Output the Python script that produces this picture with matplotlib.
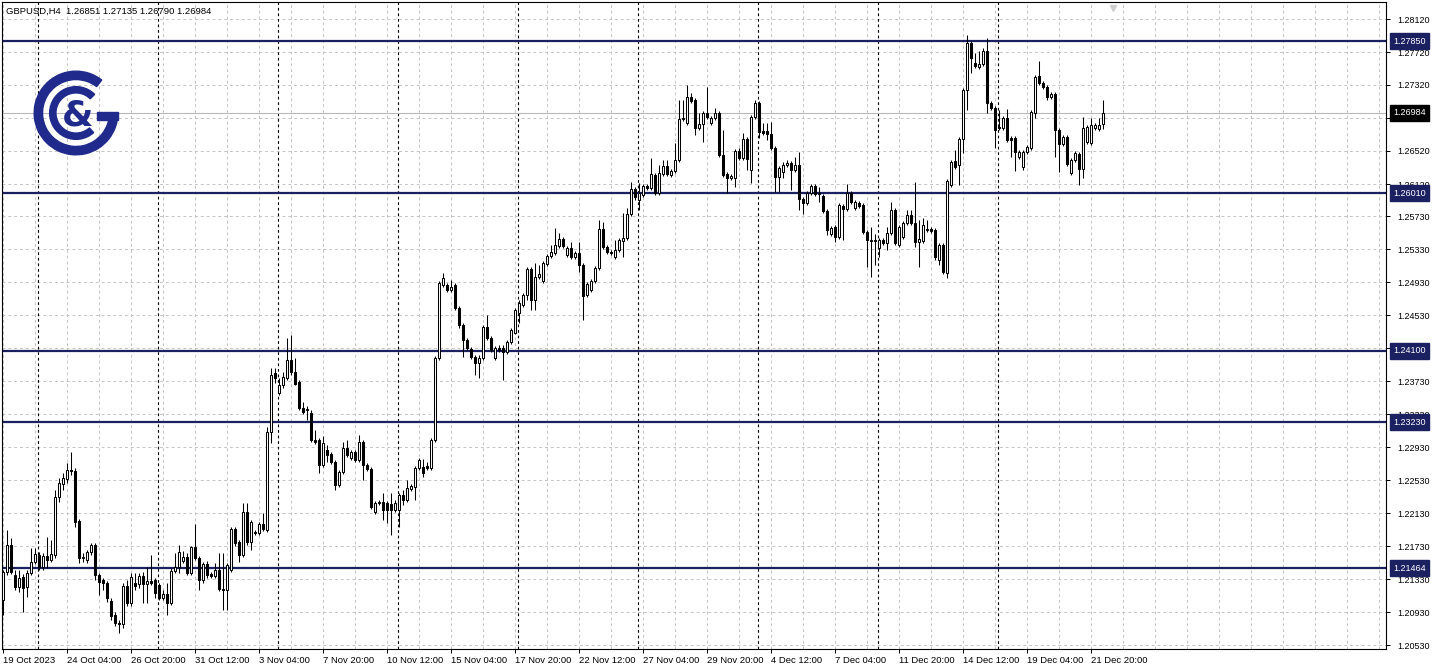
"""
GBPUSD H4 candlestick chart, MT5 style, with support/resistance levels.
"""
import numpy as np
import matplotlib
matplotlib.use("Agg")
import matplotlib.pyplot as plt
from matplotlib.patches import Wedge, Rectangle
from matplotlib.transforms import blended_transform_factory

plt.rcParams["font.family"] = ["Liberation Sans", "DejaVu Sans"]

NAVY = "#1b2060"
LOGO = "#1f2a8c"
GRID = "#c4c4c4"

symbol = "GBPUSD,H4"

# OHLC, one H4 candle each, 19 Oct 12:00 .. 22 Dec 08:00
opens = [
    1.2108, 1.2142, 1.2174, 1.2138, 1.2124, 1.2136, 1.2124, 1.2140, 1.2154, 1.2162,
    1.2148, 1.2161, 1.2156, 1.2162, 1.2233, 1.2248, 1.2254, 1.2265, 1.2264, 1.2204,
    1.2159, 1.2156, 1.2166, 1.2174, 1.2138, 1.2132, 1.2128, 1.2107, 1.2089, 1.2080,
    1.2079, 1.2125, 1.2104, 1.2128, 1.2127, 1.2137, 1.2127, 1.2131, 1.2132, 1.2126,
    1.2110, 1.2115, 1.2104, 1.2143, 1.2148, 1.2155, 1.2160, 1.2140, 1.2172, 1.2159,
    1.2132, 1.2151, 1.2139, 1.2137, 1.2144, 1.2121, 1.2120, 1.2144, 1.2194, 1.2178,
    1.2162, 1.2214, 1.2178, 1.2190, 1.2189, 1.2200, 1.2193, 1.2311, 1.2383, 1.2359,
    1.2368, 1.2377, 1.2399, 1.2384, 1.2372, 1.2341, 1.2338, 1.2334, 1.2302, 1.2302,
    1.2271, 1.2290, 1.2285, 1.2275, 1.2247, 1.2263, 1.2292, 1.2280, 1.2287, 1.2277,
    1.2299, 1.2271, 1.2267, 1.2214, 1.2225, 1.2227, 1.2225, 1.2224, 1.2217, 1.2217,
    1.2235, 1.2229, 1.2242, 1.2245, 1.2268, 1.2269, 1.2270, 1.2268, 1.2302, 1.2401,
    1.2490, 1.2490, 1.2484, 1.2490, 1.2462, 1.2441, 1.2423, 1.2412, 1.2402, 1.2395,
    1.2401, 1.2439, 1.2425, 1.2401, 1.2413, 1.2413, 1.2408, 1.2420, 1.2432, 1.2456,
    1.2465, 1.2477, 1.2509, 1.2471, 1.2499, 1.2494, 1.2515, 1.2525, 1.2528, 1.2537,
    1.2545, 1.2526, 1.2534, 1.2524, 1.2528, 1.2514, 1.2477, 1.2484, 1.2494, 1.2510,
    1.2557, 1.2536, 1.2530, 1.2524, 1.2532, 1.2543, 1.2547, 1.2576, 1.2606, 1.2593,
    1.2599, 1.2610, 1.2607, 1.2623, 1.2601, 1.2624, 1.2634, 1.2623, 1.2628, 1.2641,
    1.2691, 1.2686, 1.2717, 1.2714, 1.2680, 1.2685, 1.2698, 1.2686, 1.2692, 1.2698,
    1.2647, 1.2624, 1.2619, 1.2619, 1.2652, 1.2643, 1.2667, 1.2629, 1.2693, 1.2710,
    1.2676, 1.2676, 1.2673, 1.2656, 1.2620, 1.2627, 1.2635, 1.2637, 1.2629, 1.2635,
    1.2594, 1.2589, 1.2601, 1.2610, 1.2600, 1.2597, 1.2579, 1.2551, 1.2560, 1.2548,
    1.2585, 1.2582, 1.2601, 1.2583, 1.2589, 1.2587, 1.2554, 1.2544, 1.2544, 1.2534,
    1.2544, 1.2540, 1.2553, 1.2580, 1.2538, 1.2548, 1.2565, 1.2574, 1.2565, 1.2542,
    1.2543, 1.2556, 1.2557, 1.2556, 1.2520, 1.2538, 1.2504, 1.2611, 1.2640, 1.2635,
    1.2667, 1.2726, 1.2783, 1.2759, 1.2754, 1.2757, 1.2773, 1.2710, 1.2704, 1.2681,
    1.2680, 1.2692, 1.2668, 1.2668, 1.2645, 1.2633, 1.2651, 1.2656, 1.2698, 1.2743,
    1.2734, 1.2730, 1.2717, 1.2721, 1.2677, 1.2660, 1.2669, 1.2625, 1.2641, 1.2648,
    1.2630, 1.2663, 1.2662, 1.2680, 1.2679, 1.26851,
]
highs = [
    1.2144, 1.2193, 1.2183, 1.2144, 1.2144, 1.2139, 1.2144, 1.2171, 1.2171, 1.2166,
    1.2165, 1.2184, 1.2180, 1.2241, 1.2256, 1.2262, 1.2274, 1.2287, 1.2268, 1.2206,
    1.2165, 1.2168, 1.2177, 1.2177, 1.2140, 1.2134, 1.2131, 1.2110, 1.2093, 1.2084,
    1.2128, 1.2132, 1.2140, 1.2140, 1.2140, 1.2142, 1.2148, 1.2162, 1.2134, 1.2128,
    1.2120, 1.2128, 1.2147, 1.2165, 1.2174, 1.2167, 1.2165, 1.2173, 1.2200, 1.2161,
    1.2154, 1.2155, 1.2142, 1.2153, 1.2165, 1.2165, 1.2153, 1.2196, 1.2196, 1.2180,
    1.2225, 1.2225, 1.2205, 1.2193, 1.2202, 1.2213, 1.2317, 1.2389, 1.2389, 1.2377,
    1.2384, 1.2425, 1.2429, 1.2401, 1.2374, 1.2348, 1.2343, 1.2338, 1.2314, 1.2304,
    1.2306, 1.2296, 1.2287, 1.2277, 1.2265, 1.2299, 1.2302, 1.2290, 1.2290, 1.2308,
    1.2302, 1.2274, 1.2269, 1.2228, 1.2229, 1.2237, 1.2228, 1.2237, 1.2229, 1.2237,
    1.2241, 1.2253, 1.2248, 1.2270, 1.2280, 1.2279, 1.2275, 1.2304, 1.2404, 1.2494,
    1.2504, 1.2492, 1.2496, 1.2492, 1.2464, 1.2443, 1.2425, 1.2414, 1.2405, 1.2405,
    1.2441, 1.2453, 1.2428, 1.2416, 1.2417, 1.2417, 1.2423, 1.2437, 1.2462, 1.2471,
    1.2480, 1.2511, 1.2511, 1.2516, 1.2514, 1.2519, 1.2527, 1.2538, 1.2559, 1.2553,
    1.2548, 1.2537, 1.2542, 1.2531, 1.2542, 1.2516, 1.2493, 1.2497, 1.2513, 1.2568,
    1.2566, 1.2538, 1.2532, 1.2544, 1.2547, 1.2577, 1.2583, 1.2614, 1.2608, 1.2613,
    1.2612, 1.2612, 1.2644, 1.2625, 1.2635, 1.2641, 1.2641, 1.2630, 1.2662, 1.2714,
    1.2714, 1.2732, 1.2722, 1.2716, 1.2698, 1.2700, 1.2730, 1.2694, 1.2704, 1.2700,
    1.2677, 1.2627, 1.2624, 1.2654, 1.2656, 1.2674, 1.2669, 1.2696, 1.2714, 1.2713,
    1.2686, 1.2686, 1.2687, 1.2658, 1.2634, 1.2639, 1.2641, 1.2640, 1.2645, 1.2651,
    1.2596, 1.2603, 1.2612, 1.2612, 1.2608, 1.2600, 1.2582, 1.2561, 1.2562, 1.2589,
    1.2588, 1.2612, 1.2603, 1.2593, 1.2591, 1.2589, 1.2556, 1.2560, 1.2551, 1.2547,
    1.2547, 1.2560, 1.2590, 1.2583, 1.2562, 1.2567, 1.2580, 1.2580, 1.2614, 1.2568,
    1.2571, 1.2568, 1.2560, 1.2559, 1.2540, 1.2540, 1.2618, 1.2641, 1.2653, 1.2669,
    1.2728, 1.2793, 1.2785, 1.2771, 1.2773, 1.2777, 1.2789, 1.2713, 1.2707, 1.2702,
    1.2694, 1.2703, 1.2670, 1.2670, 1.2653, 1.2653, 1.2659, 1.2702, 1.2744, 1.2761,
    1.2737, 1.2732, 1.2723, 1.2723, 1.2680, 1.2671, 1.2671, 1.2644, 1.2652, 1.2651,
    1.2693, 1.2683, 1.2692, 1.2686, 1.2692, 1.27135,
]
lows = [
    1.2090, 1.2138, 1.2139, 1.2120, 1.2117, 1.2093, 1.2111, 1.2138, 1.2151, 1.2144,
    1.2144, 1.2147, 1.2154, 1.2159, 1.2227, 1.2241, 1.2250, 1.2259, 1.2196, 1.2153,
    1.2154, 1.2153, 1.2162, 1.2132, 1.2114, 1.2120, 1.2105, 1.2084, 1.2076, 1.2068,
    1.2074, 1.2100, 1.2100, 1.2120, 1.2122, 1.2104, 1.2104, 1.2126, 1.2110, 1.2108,
    1.2108, 1.2090, 1.2102, 1.2140, 1.2140, 1.2153, 1.2138, 1.2138, 1.2156, 1.2120,
    1.2128, 1.2134, 1.2134, 1.2134, 1.2119, 1.2096, 1.2096, 1.2142, 1.2173, 1.2154,
    1.2160, 1.2174, 1.2168, 1.2187, 1.2186, 1.2191, 1.2190, 1.2298, 1.2371, 1.2356,
    1.2365, 1.2374, 1.2380, 1.2368, 1.2338, 1.2333, 1.2326, 1.2299, 1.2297, 1.2262,
    1.2269, 1.2275, 1.2273, 1.2241, 1.2245, 1.2260, 1.2281, 1.2277, 1.2275, 1.2275,
    1.2253, 1.2264, 1.2218, 1.2212, 1.2223, 1.2205, 1.2201, 1.2187, 1.2214, 1.2196,
    1.2223, 1.2227, 1.2240, 1.2229, 1.2265, 1.2257, 1.2265, 1.2265, 1.2299, 1.2399,
    1.2487, 1.2481, 1.2481, 1.2459, 1.2438, 1.2402, 1.2411, 1.2400, 1.2380, 1.2377,
    1.2399, 1.2423, 1.2408, 1.2399, 1.2408, 1.2374, 1.2406, 1.2418, 1.2430, 1.2444,
    1.2463, 1.2471, 1.2459, 1.2459, 1.2497, 1.2492, 1.2513, 1.2522, 1.2526, 1.2534,
    1.2534, 1.2524, 1.2521, 1.2521, 1.2505, 1.2447, 1.2475, 1.2481, 1.2492, 1.2508,
    1.2533, 1.2527, 1.2526, 1.2521, 1.2530, 1.2524, 1.2544, 1.2573, 1.2593, 1.2581,
    1.2596, 1.2605, 1.2605, 1.2599, 1.2599, 1.2622, 1.2622, 1.2620, 1.2625, 1.2639,
    1.2688, 1.2683, 1.2710, 1.2671, 1.2677, 1.2663, 1.2691, 1.2683, 1.2690, 1.2645,
    1.2620, 1.2601, 1.2617, 1.2608, 1.2641, 1.2641, 1.2629, 1.2613, 1.2691, 1.2668,
    1.2671, 1.2665, 1.2653, 1.2602, 1.2602, 1.2619, 1.2633, 1.2605, 1.2627, 1.2581,
    1.2576, 1.2587, 1.2599, 1.2597, 1.2590, 1.2577, 1.2550, 1.2549, 1.2542, 1.2545,
    1.2544, 1.2579, 1.2588, 1.2581, 1.2583, 1.2551, 1.2511, 1.2499, 1.2514, 1.2523,
    1.2538, 1.2532, 1.2550, 1.2538, 1.2536, 1.2545, 1.2562, 1.2562, 1.2536, 1.2511,
    1.2540, 1.2554, 1.2553, 1.2520, 1.2514, 1.2503, 1.2498, 1.2608, 1.2630, 1.2611,
    1.2650, 1.2702, 1.2747, 1.2753, 1.2751, 1.2755, 1.2698, 1.2702, 1.2656, 1.2677,
    1.2677, 1.2663, 1.2645, 1.2628, 1.2642, 1.2629, 1.2648, 1.2653, 1.2692, 1.2732,
    1.2727, 1.2714, 1.2715, 1.2645, 1.2627, 1.2658, 1.2634, 1.2623, 1.2639, 1.2611,
    1.2619, 1.2660, 1.2659, 1.2677, 1.2676, 1.26790,
]
closes = [
    1.2142, 1.2174, 1.2142, 1.2124, 1.2134, 1.2122, 1.2140, 1.2154, 1.2164, 1.2148,
    1.2161, 1.2156, 1.2164, 1.2233, 1.2250, 1.2256, 1.2265, 1.2264, 1.2202, 1.2159,
    1.2160, 1.2166, 1.2174, 1.2138, 1.2130, 1.2128, 1.2110, 1.2088, 1.2080, 1.2079,
    1.2125, 1.2104, 1.2136, 1.2125, 1.2137, 1.2127, 1.2131, 1.2128, 1.2116, 1.2110,
    1.2115, 1.2104, 1.2143, 1.2148, 1.2166, 1.2160, 1.2140, 1.2172, 1.2159, 1.2132,
    1.2151, 1.2138, 1.2137, 1.2144, 1.2121, 1.2120, 1.2150, 1.2194, 1.2177, 1.2162,
    1.2214, 1.2178, 1.2202, 1.2189, 1.2200, 1.2194, 1.2311, 1.2380, 1.2377, 1.2368,
    1.2378, 1.2399, 1.2384, 1.2370, 1.2340, 1.2336, 1.2339, 1.2302, 1.2299, 1.2271,
    1.2298, 1.2284, 1.2275, 1.2247, 1.2263, 1.2292, 1.2284, 1.2287, 1.2277, 1.2299,
    1.2271, 1.2267, 1.2221, 1.2225, 1.2227, 1.2217, 1.2217, 1.2217, 1.2225, 1.2235,
    1.2229, 1.2244, 1.2246, 1.2268, 1.2277, 1.2262, 1.2268, 1.2302, 1.2401, 1.2492,
    1.2498, 1.2484, 1.2487, 1.2462, 1.2441, 1.2423, 1.2413, 1.2402, 1.2395, 1.2401,
    1.2439, 1.2425, 1.2411, 1.2413, 1.2411, 1.2408, 1.2420, 1.2435, 1.2459, 1.2468,
    1.2477, 1.2509, 1.2471, 1.2499, 1.2503, 1.2516, 1.2525, 1.2530, 1.2538, 1.2545,
    1.2537, 1.2534, 1.2524, 1.2528, 1.2514, 1.2476, 1.2491, 1.2494, 1.2510, 1.2557,
    1.2536, 1.2530, 1.2528, 1.2532, 1.2544, 1.2547, 1.2576, 1.2606, 1.2596, 1.2601,
    1.2610, 1.2607, 1.2624, 1.2601, 1.2625, 1.2634, 1.2624, 1.2628, 1.2641, 1.2691,
    1.2692, 1.2717, 1.2713, 1.2680, 1.2685, 1.2698, 1.2693, 1.2692, 1.2698, 1.2647,
    1.2623, 1.2619, 1.2622, 1.2652, 1.2643, 1.2667, 1.2642, 1.2693, 1.2710, 1.2675,
    1.2674, 1.2673, 1.2656, 1.2620, 1.2631, 1.2635, 1.2637, 1.2629, 1.2635, 1.2594,
    1.2589, 1.2601, 1.2610, 1.2600, 1.2601, 1.2579, 1.2556, 1.2559, 1.2548, 1.2587,
    1.2582, 1.2601, 1.2590, 1.2590, 1.2585, 1.2554, 1.2544, 1.2543, 1.2543, 1.2544,
    1.2540, 1.2553, 1.2580, 1.2540, 1.2560, 1.2565, 1.2574, 1.2565, 1.2542, 1.2545,
    1.2562, 1.2557, 1.2555, 1.2523, 1.2538, 1.2505, 1.2616, 1.2639, 1.2633, 1.2667,
    1.2726, 1.2783, 1.2765, 1.2755, 1.2757, 1.2773, 1.2710, 1.2704, 1.2677, 1.2680,
    1.2692, 1.2665, 1.2665, 1.2651, 1.2651, 1.2651, 1.2657, 1.2699, 1.2742, 1.2734,
    1.2730, 1.2717, 1.2721, 1.2677, 1.2660, 1.2669, 1.2636, 1.2641, 1.2650, 1.2630,
    1.2680, 1.2681, 1.2683, 1.2683, 1.2683, 1.26984,
]

# horizontal support / resistance levels
levels = [1.27850, 1.26010, 1.24100, 1.23230, 1.21464]

# right price scale (grid at every level, label hidden where a box covers it)
price_ticks = [1.28120, 1.27720, 1.27320, 1.26920, 1.26520, 1.26120, 1.25730,
               1.25330, 1.24930, 1.24530, 1.24130, 1.23730, 1.23330, 1.22930,
               1.22530, 1.22130, 1.21730, 1.21330, 1.20930, 1.20530]
covered_ticks = [1.26920, 1.24130]

# time scale, one label every 16 candles
date_labels = ["19 Oct 2023", "24 Oct 04:00", "26 Oct 20:00", "31 Oct 12:00",
               "3 Nov 04:00", "7 Nov 20:00", "10 Nov 12:00", "15 Nov 04:00",
               "17 Nov 20:00", "22 Nov 12:00", "27 Nov 04:00", "29 Nov 20:00",
               "4 Dec 12:00", "7 Dec 04:00", "11 Dec 20:00", "14 Dec 12:00",
               "19 Dec 04:00", "21 Dec 20:00"]
label_step = 16

# index of the first candle of each week (Monday 00:00)
week_starts = [9, 39, 69, 99, 129, 159, 189, 219, 249]

# ── Figure ────────────────────────────────────────────────────
W, H = 1436, 671
fig = plt.figure(figsize=(W / 100, H / 100), dpi=100)
fig.patch.set_facecolor("white")
ax = fig.add_axes([2 / W, 22 / H, 1384 / W, 647 / H])

o = np.array(opens); c = np.array(closes)
hi = np.array(highs); lo = np.array(lows)
x = np.arange(len(o))

# pixel mapping of the MT5 window: 8250 px per 1.0 of price
ax.set_ylim(1.28120 - 630 / 8250, 1.28120 + 17 / 8250)
ax.set_xlim(-0.175, 345.825)

# grid
for p in price_ticks:
    ax.axhline(p, color=GRID, lw=0.7, ls=(0, (3, 3)), zorder=0)
for g in np.arange(0, 346, 8):
    ax.axvline(g, color=GRID, lw=0.7, ls=(0, (3, 3)), zorder=0)
for w in week_starts:
    ax.axvline(w - 0.25, color="black", lw=0.8, ls=(0, (2.5, 2.5)), zorder=0.5)

# bid line
ax.axhline(c[-1], color="#b8b8b8", lw=0.8, zorder=0.6)

# levels
for lv in levels:
    ax.axhline(lv, color=NAVY, lw=1.6, zorder=1)

# candles
up = c >= o
ax.vlines(x, lo, hi, color="black", lw=0.75, zorder=2)
body = np.maximum(np.abs(c - o), 0.00003)
ax.bar(x, body, bottom=np.minimum(o, c), width=0.5,
       color=np.where(up, "white", "black"), edgecolor="black",
       linewidth=0.75, zorder=3)

# axes style
for s in ax.spines.values():
    s.set_color("black")
    s.set_linewidth(0.8)
ax.yaxis.tick_right()
ax.set_yticks(price_ticks)
ax.set_yticklabels(["" if p in covered_ticks else f"{p:.5f}"
                    for p in price_ticks])
ax.tick_params(axis="y", length=3, width=0.7, pad=5, labelsize=6.5)
ax.set_xticks(np.arange(len(date_labels)) * label_step)
ax.set_xticklabels(date_labels, ha="left")
ax.tick_params(axis="x", length=3, width=0.7, pad=2, labelsize=6.8)

# boxed price labels on the right scale
tr = blended_transform_factory(ax.transAxes, ax.transData)
box_x = 1 + 7 / 1384
for lv in levels:
    ax.text(box_x, lv, f"{lv:.5f}", transform=tr, ha="left",
            va="center", fontsize=6.5, color="white", zorder=10,
            clip_on=False,
            bbox=dict(boxstyle="square,pad=0.38", fc=NAVY, ec=NAVY))
ax.text(box_x, c[-1], f"{c[-1]:.5f}", transform=tr, ha="left",
        va="center", fontsize=6.5, color="white", zorder=10, clip_on=False,
        bbox=dict(boxstyle="square,pad=0.38", fc="black", ec="black"))

# chart shift marker
ax.plot(len(o) + 1.5, 1.28120 + 11 / 8250, marker="v", color="#cfcfcf",
        ms=5, clip_on=False, zorder=5)

# header
fig.text(6 / W, 1 - 11 / H,
         f"{symbol}  {o[-1]:.5f} {hi[-1]:.5f} {lo[-1]:.5f} {c[-1]:.5f}",
         fontsize=6.8, va="center", ha="left")

# logo
lax = fig.add_axes([30 / W, 1 - 160 / H, 92 / W, 94 / H])
lax.set_xlim(-1.1, 1.1)
lax.set_ylim(-1.1, 1.1)
lax.set_aspect("equal")
lax.axis("off")
lax.patch.set_alpha(0)
lax.add_patch(Wedge((0, 0), 1.0, 52, 360, width=0.2, color=LOGO))
lax.add_patch(Rectangle((0.5, -0.17), 0.5, 0.19, color=LOGO))
lax.add_patch(Wedge((0, 0), 0.63, 45, 312, width=0.15, color=LOGO))
lax.text(0.04, -0.05, "&", fontsize=26, fontweight="bold", color=LOGO,
         ha="center", va="center", family="DejaVu Sans")

fig.savefig("out.png", dpi=100)
plt.close(fig)
